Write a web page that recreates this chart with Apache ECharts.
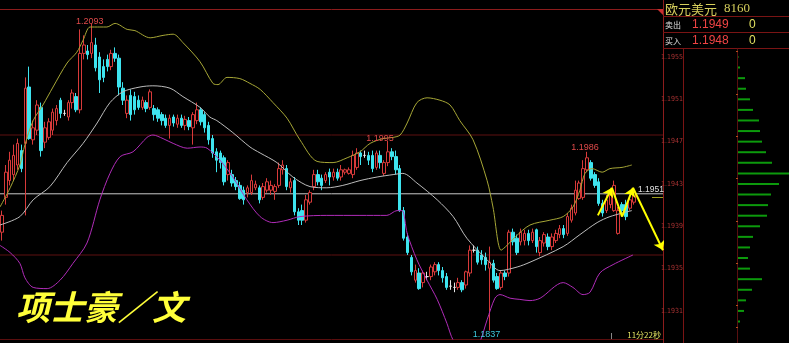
<!DOCTYPE html>
<html><head><meta charset="utf-8">
<script src="https://cdn.jsdelivr.net/npm/echarts/dist/echarts.min.js"></script>
<style>html,body{margin:0;padding:0;background:#000;overflow:hidden}#c{width:789px;height:343px}</style>
</head><body><div id="c"></div>
<script>
// ---- candle data (EUR/USD) ----
const opens = [1.1919,1.1948,1.1962,1.1967,1.1975,1.1987,1.1993,1.2040,1.1996,1.2004,
1.2023,1.1994,1.1998,1.2004,1.2012,1.2029,1.2018,1.2015,1.2027,1.2032,
1.2021,1.2068,1.2070,1.2068,1.2075,1.2065,1.2057,1.2063,1.2057,1.2068,
1.2064,1.2039,1.2018,1.2033,1.2032,1.2029,1.2023,1.2027,1.2023,1.2022,
1.2021,1.2017,1.2014,1.2008,1.2015,1.2009,1.2014,1.2008,1.2012,1.2006,
1.2012,1.2021,1.2017,1.2008,1.1997,1.1986,1.1985,1.1981,1.1967,1.1967,
1.1962,1.1958,1.1954,1.1952,1.1952,1.1956,1.1956,1.1948,1.1954,1.1954,
1.1953,1.1958,1.1971,1.1972,1.1956,1.1962,1.1936,1.1937,1.1929,1.1944,
1.1957,1.1967,1.1964,1.1962,1.1969,1.1965,1.1969,1.1965,1.1969,1.1968,
1.1967,1.1973,1.1985,1.1983,1.1983,1.1983,1.1973,1.1983,1.1968,1.1977,
1.1986,1.1982,1.1972,1.1937,1.1915,1.1898,1.1879,1.1885,1.1877,1.1882,
1.1882,1.1886,1.1892,1.1887,1.1882,1.1874,1.1873,1.1873,1.1877,1.1875,
1.1885,1.1904,1.1904,1.1900,1.1898,1.1889,1.1893,1.1882,1.1873,1.1885,
1.1885,1.1919,1.1914,1.1911,1.1912,1.1918,1.1912,1.1921,1.1902,1.1910,
1.1915,1.1907,1.1912,1.1917,1.1922,1.1918,1.1929,1.1935,1.1947,1.1948,
1.1971,1.1977,1.1967,1.1961,1.1943,1.1937,1.1942,1.1937,1.1918,1.1942,
1.1942,1.1939,1.1944];
const closes = [1.1933,1.1969,1.1979,1.1983,1.1993,1.1972,1.2039,1.1997,1.2006,1.2025,
1.1987,1.2006,1.2011,1.2019,1.2022,1.2018,1.2018,1.2027,1.2035,1.2021,
1.2068,1.2075,1.2067,1.2077,1.2056,1.2046,1.2048,1.2057,1.2068,1.2064,
1.2040,1.2029,1.2029,1.2017,1.2021,1.2023,1.2029,1.2022,1.2036,1.2017,
1.2014,1.2012,1.2008,1.2014,1.2010,1.2014,1.2008,1.2013,1.2007,1.2017,
1.2021,1.2011,1.2006,1.1996,1.1985,1.1979,1.1977,1.1961,1.1977,1.1960,
1.1957,1.1947,1.1946,1.1956,1.1962,1.1959,1.1946,1.1957,1.1961,1.1958,
1.1957,1.1972,1.1975,1.1957,1.1961,1.1936,1.1929,1.1929,1.1946,1.1952,
1.1967,1.1961,1.1958,1.1967,1.1965,1.1969,1.1964,1.1971,1.1971,1.1971,
1.1983,1.1985,1.1982,1.1983,1.1979,1.1972,1.1985,1.1977,1.1977,1.1986,
1.1982,1.1971,1.1937,1.1914,1.1902,1.1886,1.1887,1.1872,1.1885,1.1882,
1.1890,1.1892,1.1887,1.1881,1.1873,1.1874,1.1873,1.1877,1.1871,1.1886,
1.1904,1.1904,1.1894,1.1896,1.1892,1.1894,1.1879,1.1872,1.1885,1.1882,
1.1919,1.1911,1.1902,1.1919,1.1918,1.1912,1.1919,1.1907,1.1912,1.1917,
1.1907,1.1915,1.1918,1.1922,1.1917,1.1932,1.1939,1.1954,1.1960,1.1972,
1.1981,1.1964,1.1958,1.1943,1.1935,1.1946,1.1950,1.1958,1.1937,1.1937,
1.1932,1.1946,1.1952];
const lows = [1.1912,1.1942,1.1958,1.1962,1.1971,1.1969,1.1933,1.1996,1.1992,1.2000,
1.1982,1.1989,1.1996,1.2000,1.2008,1.2014,1.2016,1.2012,1.2022,1.2019,
1.2018,1.2063,1.2063,1.2064,1.2053,1.2035,1.2044,1.2053,1.2054,1.2061,
1.2033,1.2025,1.2014,1.2012,1.2017,1.2021,1.2021,1.2019,1.2021,1.2012,
1.2011,1.2008,1.2006,1.1997,1.2007,1.2006,1.2006,1.2004,1.2004,1.1992,
1.2009,1.2008,1.2002,1.1992,1.1981,1.1969,1.1972,1.1958,1.1962,1.1957,
1.1954,1.1946,1.1942,1.1948,1.1950,1.1954,1.1943,1.1946,1.1952,1.1950,
1.1946,1.1956,1.1967,1.1954,1.1952,1.1933,1.1925,1.1925,1.1927,1.1942,
1.1954,1.1958,1.1954,1.1960,1.1958,1.1962,1.1962,1.1962,1.1967,1.1967,
1.1964,1.1971,1.1975,1.1981,1.1975,1.1969,1.1971,1.1972,1.1966,1.1974,
1.1979,1.1967,1.1936,1.1912,1.1900,1.1883,1.1877,1.1871,1.1873,1.1879,
1.1879,1.1883,1.1883,1.1877,1.1871,1.1871,1.1869,1.1871,1.1869,1.1872,
1.1882,1.1902,1.1892,1.1892,1.1887,1.1837,1.1877,1.1871,1.1871,1.1879,
1.1882,1.1908,1.1900,1.1908,1.1908,1.1908,1.1910,1.1902,1.1899,1.1907,
1.1904,1.1904,1.1910,1.1914,1.1914,1.1916,1.1927,1.1933,1.1946,1.1946,
1.1969,1.1962,1.1956,1.1941,1.1932,1.1935,1.1939,1.1936,1.1917,1.1935,
1.1929,1.1937,1.1942];
const highs = [1.1937,1.1975,1.1986,1.1992,1.1997,1.1992,1.2048,1.2057,1.2012,1.2029,
1.2027,1.2011,1.2014,1.2022,1.2025,1.2031,1.2021,1.2029,1.2038,1.2035,
1.2088,1.2083,1.2075,1.2093,1.2081,1.2069,1.2063,1.2067,1.2071,1.2073,
1.2067,1.2044,1.2033,1.2038,1.2036,1.2033,1.2032,1.2029,1.2038,1.2025,
1.2023,1.2019,1.2017,1.2017,1.2017,1.2017,1.2017,1.2016,1.2015,1.2019,
1.2027,1.2023,1.2019,1.2011,1.2000,1.1989,1.1987,1.1983,1.1979,1.1971,
1.1965,1.1961,1.1957,1.1958,1.1967,1.1962,1.1958,1.1960,1.1964,1.1962,
1.1959,1.1977,1.1979,1.1975,1.1964,1.1965,1.1939,1.1942,1.1950,1.1954,
1.1971,1.1971,1.1967,1.1969,1.1972,1.1972,1.1972,1.1975,1.1972,1.1973,
1.1987,1.1989,1.1987,1.1987,1.1986,1.1987,1.1987,1.1987,1.1979,1.1995,
1.1989,1.1987,1.1975,1.1940,1.1918,1.1900,1.1892,1.1889,1.1887,1.1886,
1.1892,1.1894,1.1894,1.1890,1.1885,1.1879,1.1877,1.1881,1.1879,1.1887,
1.1908,1.1908,1.1907,1.1904,1.1902,1.1907,1.1896,1.1885,1.1887,1.1887,
1.1921,1.1922,1.1917,1.1922,1.1921,1.1921,1.1922,1.1922,1.1915,1.1919,
1.1918,1.1918,1.1921,1.1925,1.1925,1.1935,1.1942,1.1962,1.1962,1.1979,
1.1986,1.1979,1.1969,1.1964,1.1946,1.1950,1.1954,1.1962,1.1940,1.1944,
1.1946,1.1949,1.1956];
const slotCount = 170; // bar slots on the time axis (candles + empty space to the right)

// ---- Bollinger bands as [bar index, price] ----
const upperBand = [[-0.5,1.1940],[2.1,1.1956],[4.6,1.1975],[5.9,1.1992],[8,1.2012],[10.5,1.2025],[13.1,1.2040],[16.7,1.2060],[19.2,1.2069],[20.8,1.2079],[22.6,1.2090],[25.1,1.2090],[26.9,1.2090],[29,1.2093],[32.1,1.2088],[34.1,1.2087],[38,1.2081],[41.3,1.2083],[43.9,1.2084],[46.4,1.2077],[50.8,1.2061],[54.1,1.2043],[55.4,1.2042],[57.7,1.2048],[61,1.2047],[63.6,1.2043],[66.2,1.2038],[69.5,1.2027],[73.1,1.2014],[76.4,1.1996],[80.8,1.1978],[84.9,1.1977],[88.5,1.1981],[91.8,1.1986],[94.4,1.1993],[97.7,1.1997],[100.3,1.1998],[102.1,1.2000],[103.9,1.2010],[106.4,1.2027],[109,1.2031],[112.3,1.2029],[114.9,1.2025],[117.4,1.2012],[120.8,1.1996],[124.4,1.1962],[125.9,1.1940],[128,1.1904],[129.5,1.1908],[131.6,1.1915],[135.4,1.1925],[140.5,1.1929],[143.9,1.1932],[146.4,1.1940],[148.2,1.1954],[149.5,1.1968],[151.3,1.1972],[153.9,1.1969],[155.9,1.1972],[159,1.1973],[161.5,1.1975]];
const midBand = [[-0.5,1.1925],[4.6,1.1932],[8,1.1946],[12.3,1.1957],[16.7,1.1977],[20.8,1.1993],[24.4,1.2010],[27.7,1.2027],[31,1.2036],[35.4,1.2040],[38.7,1.2041],[43.1,1.2039],[46.4,1.2032],[50.8,1.2023],[53.3,1.2015],[55.1,1.2012],[59.2,1.2002],[63.6,1.1990],[66.2,1.1985],[70.5,1.1977],[74.6,1.1965],[79,1.1957],[83.3,1.1956],[87.4,1.1958],[91.8,1.1962],[96.2,1.1965],[100.3,1.1967],[102.8,1.1968],[106.4,1.1960],[111.6,1.1946],[115.7,1.1932],[119.2,1.1914],[124.4,1.1896],[127.7,1.1887],[132.1,1.1890],[135.4,1.1894],[143.9,1.1907],[148.2,1.1917],[152.6,1.1927],[155.9,1.1932],[161.5,1.1937]];
const lowerBand = [[-0.5,1.1908],[2.1,1.1902],[4.6,1.1893],[5.9,1.1881],[8,1.1873],[11.6,1.1872],[14.9,1.1879],[18.2,1.1893],[21.8,1.1910],[25.1,1.1946],[27.7,1.1968],[30.3,1.1982],[33.6,1.1986],[37.2,1.1998],[38.7,1.2000],[41.3,1.1997],[43.9,1.1993],[47.5,1.1989],[50.8,1.1990],[52.6,1.1989],[55.9,1.1979],[59.2,1.1965],[62.8,1.1946],[66.2,1.1932],[69.5,1.1927],[73.1,1.1929],[76.4,1.1932],[83.3,1.1933],[91.8,1.1933],[98.7,1.1933],[101.3,1.1937],[102.6,1.1937],[103.9,1.1918],[106.4,1.1896],[109,1.1879],[111.6,1.1863],[114.1,1.1843],[115.7,1.1829],[118.7,1.1817],[122.1,1.1825],[124.4,1.1846],[126.4,1.1864],[127.7,1.1867],[130.3,1.1864],[132.8,1.1863],[135.4,1.1862],[138,1.1864],[143.9,1.1877],[146.4,1.1873],[149,1.1867],[150.8,1.1869],[153.3,1.1885],[156.7,1.1892],[161.8,1.1900]];

// ---- hand-drawn forecast arrows [bar index, price] ----
const arrowPath = [[152.8,1.1933],[156.4,1.1956],[159,1.1932],[161.8,1.1956],[169.5,1.1904]];

// ---- labelled extremes ----
const extremeHighIdx = [23, 99, 150];
const extremeLowIdx = [125];
const lastPrice = 1.1951;
const gridPrices = [1.2000, 1.1900];

// ---- right panel (price distribution) ----
const depthPrices = ['1.1955','1.1954','1.1953','1.1952','1.1951','1.1950','1.1949','1.1948','1.1947','1.1946','1.1945','1.1944','1.1943','1.1942','1.1941','1.1940','1.1939','1.1938','1.1937','1.1936','1.1935','1.1934','1.1933','1.1932','1.1931','1.1930'];
const depthCounts = [0.5,2,7,8,12,15,21,22,24,28,34,52,41,33,30,29,22,15,12,10,12,24,14,8,6,2];
const quoteName = '欧元美元';
const quoteCode = '8160';
const sellPrice = '1.1949', buyPrice = '1.1948';
const timerText = '11分22秒';
const authorText = '项士豪／文';

const slots = []; for (let i = 0; i < slotCount; i++) slots.push(String(i + 1));
const candles = opens.map((o, i) => [o, closes[i], lows[i], highs[i]]);
const xEnds = [-0.5, slotCount - 0.5];
const hLine = p => xEnds.map(x => [x, p]);

const RED = '#d83a3a', CYAN = '#3ee4ef', DARKRED = '#7a1414';
const chart = echarts.init(document.getElementById('c'), null, {renderer: 'canvas'});

const arrowSegs = [[arrowPath[0], arrowPath[1]], [arrowPath[2], arrowPath[3]], [arrowPath[3], arrowPath[4]]];
const plainSegs = [[arrowPath[1], arrowPath[2]]];

const highOffsets = [[-2, -2], [-8, -2], [-2, -4]];
const mpData = extremeHighIdx.map((i, k) => ({coord: [i, highs[i]], value: highs[i].toFixed(4),
    label: {color: '#e04a4a', offset: highOffsets[k]}}))
  .concat(extremeLowIdx.map(i => ({coord: [i, lows[i]], value: lows[i].toFixed(4),
    label: {color: '#3cc8dc', offset: [-3, 4]}})));

const option = {
  backgroundColor: '#000',
  animation: false,
  grid: [
    {left: 0, top: 9, width: 663, height: 330, outerBoundsMode: 'none'},
    {left: 738, top: 51.7, width: 51, height: 275.1, outerBoundsMode: 'none'}
  ],
  xAxis: [
    {type: 'category', gridIndex: 0, data: slots, boundaryGap: true, show: false},
    {type: 'value', gridIndex: 0, min: -0.5, max: slotCount - 0.5, show: false},
    {type: 'value', gridIndex: 1, min: 0, max: 51, show: false}
  ],
  yAxis: [
    {type: 'value', gridIndex: 0, min: 1.183, max: 1.2105, show: false, splitLine: {show: false}},
    {type: 'category', gridIndex: 1, data: depthPrices, inverse: true,
     axisLine: {show: false},
     axisTick: {show: true, length: 2, lineStyle: {color: '#b8501c'}},
     splitLine: {show: false},
     axisLabel: {show: true, interval: 3, align: 'right', margin: 55, fontSize: 7,
                 color: '#a83232', fontFamily: "'Liberation Sans Narrow','DejaVu Sans Condensed',sans-serif"}}
  ],
  series: [
    {type: 'line', xAxisIndex: 1, yAxisIndex: 0, data: hLine(gridPrices[0]), symbol: 'none', silent: true,
     lineStyle: {color: '#5e1010', width: 1}, z: 1},
    {type: 'line', xAxisIndex: 1, yAxisIndex: 0, data: hLine(gridPrices[1]), symbol: 'none', silent: true,
     lineStyle: {color: '#5e1010', width: 1}, z: 1},
    {type: 'line', xAxisIndex: 1, yAxisIndex: 0, data: hLine(lastPrice), symbol: 'none', silent: true,
     lineStyle: {color: '#c8c8c8', width: 1}, z: 1,
     markPoint: {silent: true, symbol: 'rect', symbolSize: 1, itemStyle: {color: 'rgba(0,0,0,0)'},
       label: {show: true, position: 'inside', fontSize: 8.5, fontFamily: 'Liberation Sans', color: '#e0e0e0',
               offset: [-12, -4]},
       data: [{coord: [slotCount - 0.5, lastPrice], value: lastPrice.toFixed(4)}]}},
    {type: 'candlestick', xAxisIndex: 0, yAxisIndex: 0, data: candles, barWidth: 3, z: 2,
     itemStyle: {color: '#000', color0: CYAN, borderColor: RED, borderColor0: CYAN,
                 borderColorDoji: '#e6e6e6', borderWidth: 1},
     markPoint: {silent: true, symbol: 'rect', symbolSize: 1, itemStyle: {color: 'rgba(0,0,0,0)'},
       label: {show: true, position: 'inside', fontSize: 9, fontFamily: 'Liberation Sans'},
       data: mpData}
    },
    {type: 'line', xAxisIndex: 1, yAxisIndex: 0, data: upperBand, smooth: 0.3, symbol: 'none',
     lineStyle: {color: '#a6a636', width: 1}, z: 3},
    {type: 'line', xAxisIndex: 1, yAxisIndex: 0, data: midBand, smooth: 0.3, symbol: 'none',
     lineStyle: {color: '#bcbcbc', width: 1}, z: 3},
    {type: 'line', xAxisIndex: 1, yAxisIndex: 0, data: lowerBand, smooth: 0.3, symbol: 'none',
     lineStyle: {color: '#b02cb8', width: 1}, z: 3},
    {type: 'lines', coordinateSystem: 'cartesian2d', xAxisIndex: 1, yAxisIndex: 0, z: 5,
     symbol: ['none', 'arrow'], symbolSize: 9,
     lineStyle: {color: '#ffff00', width: 2, opacity: 1},
     data: arrowSegs.map(s => ({coords: s}))},
    {type: 'lines', coordinateSystem: 'cartesian2d', xAxisIndex: 1, yAxisIndex: 0, z: 5,
     symbol: ['none', 'none'],
     lineStyle: {color: '#ffff00', width: 2, opacity: 1},
     data: plainSegs.map(s => ({coords: s}))},
    {type: 'bar', xAxisIndex: 2, yAxisIndex: 1, data: depthCounts, barWidth: 2,
     itemStyle: {color: '#0c9a0c'}}
  ],
  graphic: [
    {type: 'line', shape: {x1: 0, y1: 9.5, x2: 663, y2: 9.5}, style: {stroke: '#8c1c1c', lineWidth: 1}},
    {type: 'line', shape: {x1: 0, y1: 339.5, x2: 663, y2: 339.5}, style: {stroke: '#5a0e0e', lineWidth: 1}},
    {type: 'line', shape: {x1: 663.5, y1: 0, x2: 663.5, y2: 343}, style: {stroke: '#8c1c1c', lineWidth: 1}},
    {type: 'polygon', shape: {points: [[657, 9], [663, 9], [663, 15]]}, style: {fill: '#c83030'}},
    {type: 'line', shape: {x1: 663, y1: 16.5, x2: 789, y2: 16.5}, style: {stroke: DARKRED, lineWidth: 1}},
    {type: 'line', shape: {x1: 663, y1: 32.5, x2: 789, y2: 32.5}, style: {stroke: DARKRED, lineWidth: 1}},
    {type: 'line', shape: {x1: 663, y1: 48.5, x2: 789, y2: 48.5}, style: {stroke: DARKRED, lineWidth: 1}},
    {type: 'line', shape: {x1: 683.5, y1: 48.5, x2: 683.5, y2: 343}, style: {stroke: DARKRED, lineWidth: 1}},
    {type: 'line', shape: {x1: 737.5, y1: 48.5, x2: 737.5, y2: 343}, style: {stroke: '#5a1010', lineWidth: 1}},
    {type: 'line', shape: {x1: 611.5, y1: 333, x2: 611.5, y2: 339}, style: {stroke: '#888', lineWidth: 1}},
    {type: 'line', shape: {x1: 652, y1: 197.5, x2: 663, y2: 197.5}, style: {stroke: '#a0a020', lineWidth: 1}},
    {type: 'text', x: 665, y: 9, style: {text: quoteName, fill: '#d6cf5c', fontSize: 13,
      fontFamily: 'Noto Sans CJK SC', verticalAlign: 'middle'}},
    {type: 'text', x: 724, y: 9, style: {text: quoteCode, fill: '#d6cf5c', fontSize: 13,
      fontFamily: 'Liberation Serif', verticalAlign: 'middle'}},
    {type: 'text', x: 665, y: 25, style: {text: '卖出', fill: '#e0e0e0', fontSize: 8,
      fontFamily: 'Noto Sans CJK SC', verticalAlign: 'middle'}},
    {type: 'text', x: 692, y: 25, style: {text: sellPrice, fill: '#f04444', fontSize: 12,
      fontFamily: 'Liberation Sans', verticalAlign: 'middle'}},
    {type: 'text', x: 749, y: 25, style: {text: '0', fill: '#e0e060', fontSize: 12,
      fontFamily: 'Liberation Sans', verticalAlign: 'middle'}},
    {type: 'text', x: 665, y: 41, style: {text: '买入', fill: '#e0e0e0', fontSize: 8,
      fontFamily: 'Noto Sans CJK SC', verticalAlign: 'middle'}},
    {type: 'text', x: 692, y: 41, style: {text: buyPrice, fill: '#f04444', fontSize: 12,
      fontFamily: 'Liberation Sans', verticalAlign: 'middle'}},
    {type: 'text', x: 749, y: 41, style: {text: '0', fill: '#e0e060', fontSize: 12,
      fontFamily: 'Liberation Sans', verticalAlign: 'middle'}},
    {type: 'text', x: 661, y: 335, style: {text: timerText, fill: '#e0e060', fontSize: 8,
      fontFamily: 'Noto Sans CJK SC', align: 'right', verticalAlign: 'middle'}},
    {type: 'text', x: 16, y: 307, style: {text: authorText, fill: '#ffff3a', fontSize: 34,
      fontStyle: 'italic', fontWeight: 'bold', fontFamily: 'Noto Sans CJK SC', verticalAlign: 'middle'}}
  ]
};
chart.setOption(option);
</script>
</body></html>
